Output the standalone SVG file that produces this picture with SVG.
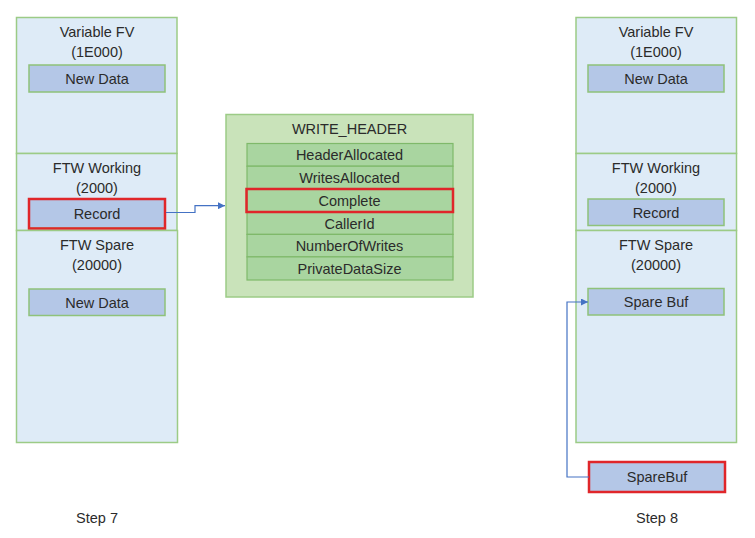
<svg xmlns="http://www.w3.org/2000/svg" width="755" height="538" viewBox="0 0 755 538">
<style>
text{font-family:"Liberation Sans",Arial,sans-serif;font-size:14.5px;fill:#2b2b2b;text-anchor:middle;dominant-baseline:central}
.region{fill:#DEEBF7;stroke:#9CCB86;stroke-width:1.5}
.item{fill:#B4C7E7;stroke:#8FC27A;stroke-width:1.5}
.hdr{fill:#C9E3BA;stroke:#9CCB86;stroke-width:1.5}
.row{fill:#A9D5A0;stroke:#7FB96A;stroke-width:1.2}
.hl{fill:none;stroke:#E0262A;stroke-width:2.5}
.conn{fill:none;stroke:#4472C4;stroke-width:1.2}
</style>
<defs>
<marker id="arr" viewBox="0 0 10 10" refX="10" refY="5" markerWidth="7" markerHeight="7" orient="auto" markerUnits="userSpaceOnUse">
<path d="M0,0 L10,5 L0,10 z" fill="#4472C4"/>
</marker>
</defs>
<rect width="755" height="538" fill="#fff"/>

<g id="step7">
<g id="s7-varfv">
<rect class="region" x="16.5" y="17.5" width="160.5" height="136"/>
<text x="97" y="32">Variable FV</text>
<text x="97" y="52">(1E000)</text>
<rect class="item" x="29" y="65" width="136" height="27"/>
<text x="97" y="79">New Data</text>
</g>
<g id="s7-working">
<rect class="region" x="16.5" y="153.5" width="160.5" height="77"/>
<text x="97" y="168">FTW Working</text>
<text x="97" y="188">(2000)</text>
<rect class="item" x="29" y="199" width="136" height="29"/>
<rect class="hl" x="29" y="199" width="136" height="29.5"/>
<text x="97" y="213.5">Record</text>
</g>
<g id="s7-spare">
<rect class="region" x="16.5" y="230.5" width="161" height="212"/>
<text x="97" y="245">FTW Spare</text>
<text x="97" y="265">(20000)</text>
<rect class="item" x="29" y="289" width="136" height="26.5"/>
<text x="97" y="302.5">New Data</text>
</g>
<text x="97" y="518">Step 7</text>
</g>

<g id="write-header">
<rect class="hdr" x="226" y="114.5" width="247" height="182.5"/>
<text x="349.5" y="129">WRITE_HEADER</text>
<rect class="row" x="247" y="143.5" width="206" height="22.7"/>
<text x="349.5" y="155">HeaderAllocated</text>
<rect class="row" x="247" y="166.2" width="206" height="22.7"/>
<text x="349.5" y="177.5">WritesAllocated</text>
<rect class="row" x="247" y="188.9" width="206" height="23"/>
<text x="349.5" y="200.5">Complete</text>
<rect class="row" x="247" y="211.9" width="206" height="22.5"/>
<text x="349.5" y="223.5">CallerId</text>
<rect class="row" x="247" y="234.4" width="206" height="22.5"/>
<text x="349.5" y="245.5">NumberOfWrites</text>
<rect class="row" x="247" y="256.9" width="206" height="23.1"/>
<text x="349.5" y="268.5">PrivateDataSize</text>
<rect class="hl" x="246.5" y="189" width="206.5" height="23"/>
</g>

<g id="step8">
<g id="s8-varfv">
<rect class="region" x="576" y="17.5" width="160.5" height="136"/>
<text x="656" y="32">Variable FV</text>
<text x="656" y="52">(1E000)</text>
<rect class="item" x="588" y="65" width="136" height="27"/>
<text x="656" y="79">New Data</text>
</g>
<g id="s8-working">
<rect class="region" x="576" y="153.5" width="160.5" height="77"/>
<text x="656" y="168">FTW Working</text>
<text x="656" y="188">(2000)</text>
<rect class="item" x="588" y="199" width="136" height="26.5"/>
<text x="656" y="212.5">Record</text>
</g>
<g id="s8-spare">
<rect class="region" x="576" y="230.5" width="160.5" height="212"/>
<text x="656" y="245">FTW Spare</text>
<text x="656" y="265">(20000)</text>
<rect class="item" x="588" y="288.5" width="136" height="26.5"/>
<text x="656" y="301.5">Spare Buf</text>
</g>
<g id="s8-sparebuf">
<rect class="item" x="589" y="462" width="136" height="30"/>
<rect class="hl" x="589" y="462" width="136" height="30"/>
<text x="657" y="477">SpareBuf</text>
</g>
<text x="657" y="518">Step 8</text>
</g>

<g id="connectors">
<path class="conn" d="M166,212.5 H195 V205.7 H225" marker-end="url(#arr)"/>
<path class="conn" d="M589,477 H567 V302 H588" marker-end="url(#arr)"/>
</g>
</svg>
